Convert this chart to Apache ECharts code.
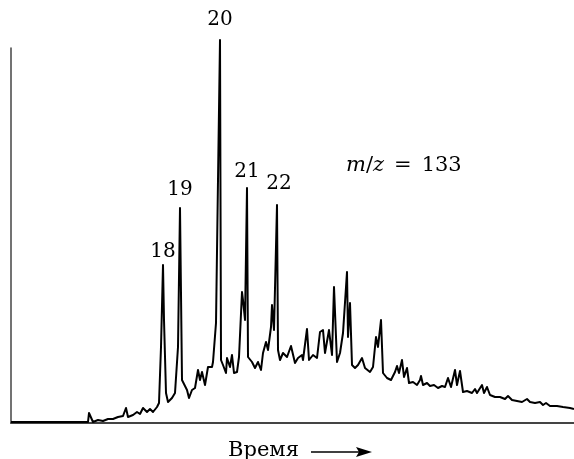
<!DOCTYPE html>
<html>
<head>
<meta charset="utf-8">
<script src="https://cdn.jsdelivr.net/npm/echarts@6/dist/echarts.min.js"></script>
<style>
  html, body { margin: 0; padding: 0; background: #fff; }
  #chart { width: 574px; height: 459px; }
</style>
</head>
<body>
<div id="chart"></div>
<script>
// время (усл. ед.) и интенсивность сигнала m/z = 133
const time = [
  0, 77, 78, 82, 87, 92, 97, 102, 107, 112, 115, 117, 122, 126, 129, 132, 136, 139, 142, 146,
  148, 150, 152, 153, 155, 157, 161, 164, 167, 169, 171, 173, 176, 178, 181, 184, 187, 189, 191,
  194, 197, 201, 202, 205, 207, 209, 210, 212, 215, 216, 219, 221, 223, 226, 228, 231, 232, 234,
  236, 237, 241, 244, 247, 250, 252, 255, 257, 260, 261, 263, 266, 267, 269, 272, 276, 280, 284,
  287, 291, 292, 296, 298, 302, 306, 309, 312, 314, 318, 321, 323, 326, 329, 332, 336, 337, 339,
  341, 344, 347, 351, 354, 356, 359, 362, 365, 367, 370, 372, 376, 380, 384, 386, 388, 391, 393,
  396, 398, 402, 406, 409, 410, 412, 416, 419, 423, 427, 431, 434, 437, 440, 444, 446, 449, 452,
  456, 461, 464, 466, 471, 473, 476, 479, 484, 489, 494, 497, 501, 506, 511, 516, 519, 524, 529,
  532, 535, 539, 546, 552, 559, 563
];
const signal = [
  1, 1, 10, 1, 3, 2, 4, 4, 6, 7, 15, 6, 8, 11, 9, 15, 11, 14, 11, 16,
  20, 76, 158, 103, 30, 21, 25, 30, 76, 215, 43, 41, 33, 25, 33, 35, 53, 43, 51,
  38, 56, 56, 61, 100, 243, 383, 63, 58, 50, 65, 56, 68, 50, 51, 66, 131, 123, 103,
  235, 66, 61, 55, 61, 53, 70, 81, 73, 96, 118, 93, 218, 73, 63, 70, 66, 77, 60,
  65, 68, 63, 94, 63, 68, 65, 91, 93, 70, 93, 68, 136, 61, 70, 90, 151, 86, 120,
  58, 55, 58, 65, 55, 57, 51, 56, 86, 76, 103, 50, 45, 43, 51, 57, 50, 63, 46,
  55, 40, 41, 38, 43, 47, 38, 40, 37, 38, 35, 37, 36, 45, 36, 53, 38, 52, 31,
  32, 30, 34, 30, 38, 30, 36, 28, 26, 26, 24, 27, 23, 22, 21, 24, 21, 20, 21,
  18, 20, 17, 17, 16, 15, 14
];

// подписи пиков
const peakNames = ['18', '19', '20', '21', '22'];
const peakTime = [152, 169, 209, 236, 268];
const peakLabelLevel = [171, 233, 403, 251, 239];

const chart = echarts.init(document.getElementById('chart'));

const serif = '"DejaVu Serif", serif';

chart.setOption({
  animation: false,
  grid: { left: 11, right: 0, top: 48, bottom: 36 },
  xAxis: {
    type: 'value',
    min: 0,
    max: 563,
    axisLine: { show: true, lineStyle: { color: '#444', width: 2 } },
    axisTick: { show: false },
    axisLabel: { show: false },
    splitLine: { show: false }
  },
  yAxis: {
    type: 'value',
    min: 0,
    max: 375,
    axisLine: { show: true, lineStyle: { color: '#444', width: 1.5 } },
    axisTick: { show: false },
    axisLabel: { show: false },
    splitLine: { show: false }
  },
  series: [
    {
      type: 'line',
      data: time.map((t, i) => [t, signal[i]]),
      showSymbol: false,
      clip: false,
      lineStyle: { color: '#000', width: 2, join: 'round' }
    },
    {
      type: 'scatter',
      symbolSize: 0,
      clip: false,
      itemStyle: { opacity: 1, color: '#000' },
      data: peakNames.map((n, i) => ({ name: n, value: [peakTime[i], peakLabelLevel[i]] })),
      label: {
        show: true,
        position: 'inside',
        formatter: '{b}',
        color: '#000',
        opacity: 1,
        textBorderWidth: 0,
        fontFamily: serif,
        fontSize: 20
      }
    }
  ],
  graphic: [
    {
      type: 'text',
      left: 346,
      top: 155,
      style: {
        text: '{i|m}/{i|z}{e|=}133',
        fill: '#000',
        font: '21px ' + serif,
        rich: {
          i: { fontStyle: 'italic', fontFamily: serif, fontSize: 21 },
          e: { fontFamily: serif, fontSize: 21, padding: [0, 10, 0, 10] }
        }
      }
    },
    {
      type: 'text',
      left: 228,
      top: 440,
      style: { text: 'Время', fill: '#000', font: '21px ' + serif }
    },
    {
      type: 'line',
      shape: { x1: 311, y1: 452, x2: 360, y2: 452 },
      style: { stroke: '#000', lineWidth: 1.5 }
    },
    {
      type: 'polygon',
      shape: { points: [[356, 447], [372, 452], [356, 457], [359, 452]] },
      style: { fill: '#000' }
    }
  ]
});
</script>
</body>
</html>
